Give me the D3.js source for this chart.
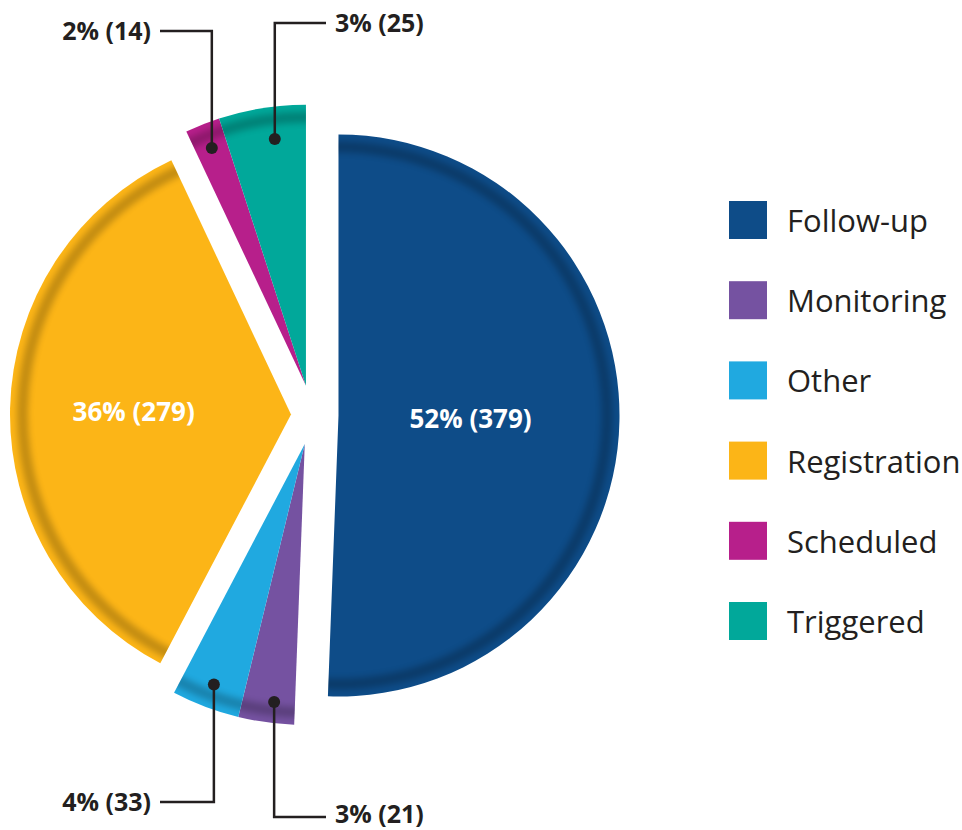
<!DOCTYPE html>
<html>
<head>
<meta charset="utf-8">
<script src="https://cdn.jsdelivr.net/npm/d3@7"></script>
<style>
  html, body { margin: 0; padding: 0; background: #ffffff; }
  svg { display: block; }
</style>
</head>
<body>
<svg id="chart" width="962" height="830"></svg>
<script>
// ---- data ----
const categories = ["Follow-up", "Monitoring", "Other", "Registration", "Scheduled", "Triggered"];
const counts = [379, 21, 33, 279, 14, 25];
const percentLabels = [52, 3, 4, 36, 2, 3];
// slice sizes as drawn in the picture (percent of circle)
const sliceShares = [50.6, 3.2, 3.9, 35.3, 2.0, 5.0];
const colors = ["#0e4c88", "#7552a1", "#20a9e0", "#fcb517", "#b71f8b", "#01a89a"];

// ---- style / layout ----
const W = 962, H = 830;
const cx = 312.5, cy = 415, R = 281;
const explodeGroup = [0, 1, 1, 2, 3, 3];
const explodeDist = [26, 30, 21.5, 30];
const insideLabelRatio = {0: 0.47, 3: 0.56};
const outerLabel = {
  1: {y: 817, ty: 813, endX: 326, side: "right", r: 0.925, f: 0.4},
  2: {y: 802, ty: 801, endX: 160, side: "left",  r: 0.915, f: 0.5},
  4: {y: 31,  ty: 30,  endX: 160, side: "left",  r: 0.91,  f: 0.5},
  5: {y: 23,  ty: 22,  endX: 326, side: "right", r: 0.885, f: 0.6}
};
const ink = "#231f20";

const svg = d3.select("#chart");
const defs = svg.append("defs");
defs.append("filter").attr("id", "blur").attr("x", "-20%").attr("y", "-20%")
  .attr("width", "140%").attr("height", "140%")
  .append("feGaussianBlur").attr("stdDeviation", 3.4);

const idx = d3.range(categories.length);
const pie = d3.pie().sort(null).value(i => sliceShares[i]);
const arcs = pie(idx);

// group mid-angles for explosion
const groupAngles = {};
arcs.forEach(a => {
  const g = explodeGroup[a.data];
  if (!groupAngles[g]) groupAngles[g] = {s: a.startAngle, e: a.endAngle};
  else {
    groupAngles[g].s = Math.min(groupAngles[g].s, a.startAngle);
    groupAngles[g].e = Math.max(groupAngles[g].e, a.endAngle);
  }
});
function offsetOf(i) {
  const g = explodeGroup[i];
  const m = (groupAngles[g].s + groupAngles[g].e) / 2;
  const d = explodeDist[g];
  return [cx + d * Math.sin(m), cy - d * Math.cos(m)];
}

const arcGen = d3.arc().innerRadius(0).outerRadius(R);
const bandGen = d3.arc().innerRadius(R - 18).outerRadius(R - 7);

const slices = svg.append("g").attr("class", "slices");
arcs.forEach(a => {
  const i = a.data;
  const [ox, oy] = offsetOf(i);
  const g = slices.append("g").attr("transform", `translate(${ox},${oy})`);
  const clipId = "clip" + i;
  defs.append("clipPath").attr("id", clipId).append("path").attr("d", arcGen(a));
  g.append("path").attr("d", arcGen(a)).attr("fill", colors[i]);
  g.append("g").attr("clip-path", `url(#${clipId})`)
    .append("path")
    .attr("d", bandGen({startAngle: a.startAngle - 0.2, endAngle: a.endAngle + 0.2}))
    .attr("fill", "#000").attr("opacity", 0.22)
    .attr("filter", "url(#blur)");
});

// inside labels
arcs.forEach(a => {
  const i = a.data;
  if (!(i in insideLabelRatio)) return;
  const [ox, oy] = offsetOf(i);
  const m = (a.startAngle + a.endAngle) / 2;
  const r = R * insideLabelRatio[i];
  svg.append("text")
    .attr("x", ox + r * Math.sin(m))
    .attr("y", oy - r * Math.cos(m))
    .attr("text-anchor", "middle")
    .attr("dominant-baseline", "central")
    .attr("font-family", "'Open Sans', sans-serif")
    .attr("font-weight", 700)
    .attr("font-size", 26)
    .attr("fill", "#ffffff")
    .text(`${percentLabels[i]}% (${counts[i]})`);
});

// outer labels with leader lines
const leaders = svg.append("g");
arcs.forEach(a => {
  const i = a.data;
  const spec = outerLabel[i];
  if (!spec) return;
  const [ox, oy] = offsetOf(i);
  const m = a.startAngle + spec.f * (a.endAngle - a.startAngle);
  const r = R * spec.r;
  const px = ox + r * Math.sin(m);
  const py = oy - r * Math.cos(m);
  leaders.append("path")
    .attr("d", `M${px},${py}V${spec.y}H${spec.endX}`)
    .attr("fill", "none").attr("stroke", ink).attr("stroke-width", 2.5);
  leaders.append("circle").attr("cx", px).attr("cy", py).attr("r", 6).attr("fill", ink);
  leaders.append("text")
    .attr("x", spec.side === "right" ? spec.endX + 9 : spec.endX - 9)
    .attr("y", spec.ty)
    .attr("text-anchor", spec.side === "right" ? "start" : "end")
    .attr("dominant-baseline", "central")
    .attr("font-family", "'Open Sans', sans-serif")
    .attr("font-weight", 700)
    .attr("font-size", 25)
    .attr("fill", ink)
    .text(`${percentLabels[i]}% (${counts[i]})`);
});

// legend
const legY = d3.scalePoint().domain(categories).range([220, 621]);
const legend = svg.append("g");
categories.forEach((c, i) => {
  legend.append("rect")
    .attr("x", 729).attr("y", legY(c) - 19)
    .attr("width", 38).attr("height", 38)
    .attr("fill", colors[i]);
  legend.append("text")
    .attr("x", 787).attr("y", legY(c))
    .attr("dominant-baseline", "central")
    .attr("font-family", "'Open Sans', sans-serif")
    .attr("font-size", 31)
    .attr("fill", ink)
    .text(c);
});
</script>
</body>
</html>
